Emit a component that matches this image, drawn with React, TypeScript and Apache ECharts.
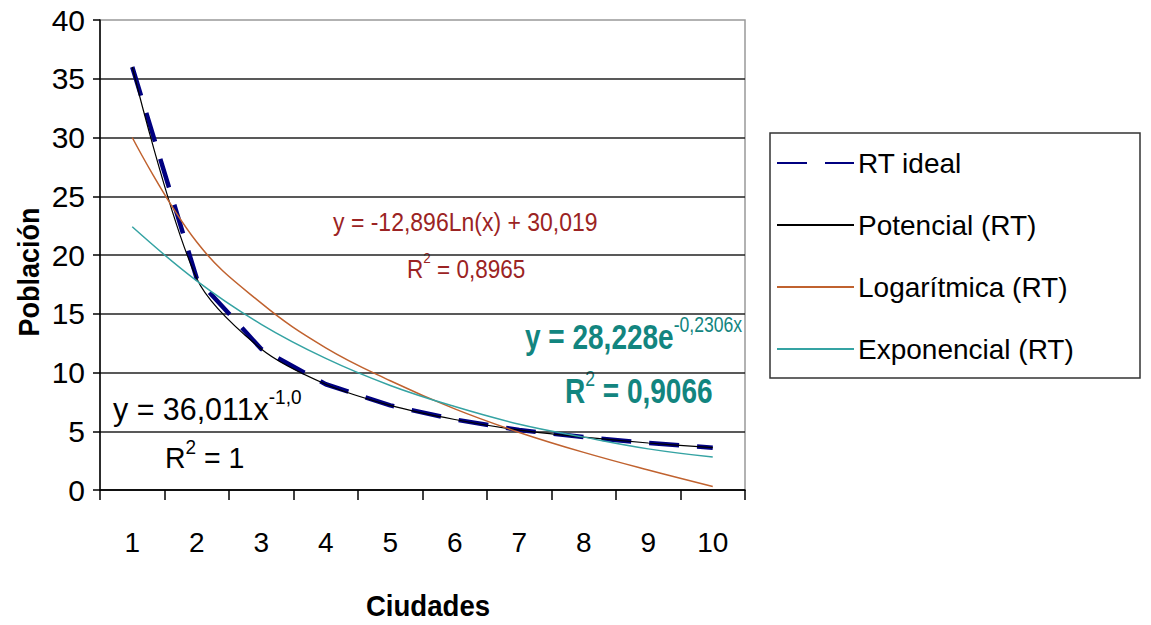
import React, { useEffect, useRef } from "react";
import * as echarts from "echarts";

const categories = ["1", "2", "3", "4", "5", "6", "7", "8", "9", "10"];
const rtIdeal = [36.0, 18.0, 12.0, 9.0, 7.2, 6.0, 5.1, 4.5, 4.0, 3.6];
const potencial = [36.0, 18.0, 12.0, 9.0, 7.2, 6.0, 5.1, 4.5, 4.0, 3.6];
const logaritmica = [30.0, 21.1, 15.9, 12.1, 9.3, 6.9, 4.9, 3.2, 1.7, 0.3];
const exponencial = [22.4, 17.8, 14.1, 11.2, 8.9, 7.1, 5.6, 4.5, 3.5, 2.8];

const seriesNames = ["RT ideal", "Potencial (RT)", "Logarítmica (RT)", "Exponencial (RT)"];

const FONT = "'Liberation Sans', Arial, sans-serif";

export default function App() {
  const ref = useRef<HTMLDivElement>(null);
  useEffect(() => {
    document.body.style.margin = "0";
    if (!ref.current) return;
    const chart = echarts.init(ref.current, undefined, { renderer: "svg" });
    const supRich = (color: string, size: number, supSize: number, weight: string) => ({
      m: { fontSize: size, fontFamily: FONT, fill: color, color, fontWeight: weight, verticalAlign: "bottom", lineHeight: size + 6 },
      s: { fontSize: supSize, fontFamily: FONT, fill: color, color, fontWeight: "normal", verticalAlign: "top", lineHeight: size + 6 },
    });
    chart.setOption({
      animation: false,
      backgroundColor: "#ffffff",
      textStyle: { fontFamily: FONT },
      grid: { left: 100, right: 406, top: 20, bottom: 135, show: true, borderColor: "#999", borderWidth: 1.5 },
      legend: {
        orient: "vertical",
        left: 776,
        top: 149,
        padding: 0,
        itemWidth: 77,
        itemHeight: 14,
        itemGap: 34,
        data: seriesNames,
        itemStyle: { opacity: 0 },
        textStyle: { fontSize: 28, color: "#000", fontFamily: FONT, padding: [0, 0, 0, -1] },
      },
      xAxis: {
        type: "category",
        data: categories,
        boundaryGap: true,
        axisLine: { lineStyle: { color: "#000", width: 1.5 } },
        axisTick: { show: true, length: 10, lineStyle: { color: "#000", width: 1.5 } },
        axisLabel: { fontSize: 28, color: "#000", margin: 38, fontFamily: FONT },
        splitLine: { show: false },
      },
      yAxis: {
        type: "value",
        min: 0,
        max: 40,
        interval: 5,
        axisLine: { show: true, lineStyle: { color: "#000", width: 1.5 } },
        axisTick: { show: true, length: 7, lineStyle: { color: "#000", width: 1.5 } },
        axisLabel: { fontSize: 30, color: "#000", margin: 15, fontFamily: FONT },
        splitLine: { show: true, showMaxLine: false, lineStyle: { color: "#222", width: 1.5 } },
      },
      series: [
        {
          name: seriesNames[0],
          type: "line",
          data: rtIdeal,
          symbol: "none",
          lineStyle: { color: "#000080", width: 4.5, type: [30, 18] },
          itemStyle: { color: "#000080" },
          z: 2,
        },
        {
          name: seriesNames[1],
          type: "line",
          data: potencial,
          symbol: "none",
          smooth: 0.3,
          lineStyle: { color: "#000000", width: 1.2 },
          itemStyle: { color: "#000000" },
          z: 3,
        },
        {
          name: seriesNames[2],
          type: "line",
          data: logaritmica,
          symbol: "none",
          smooth: 0.4,
          lineStyle: { color: "#C0622F", width: 1.5 },
          itemStyle: { color: "#C0622F" },
          z: 3,
        },
        {
          name: seriesNames[3],
          type: "line",
          data: exponencial,
          symbol: "none",
          smooth: 0.4,
          lineStyle: { color: "#35A3A3", width: 1.5 },
          itemStyle: { color: "#35A3A3" },
          z: 3,
        },
      ],
      graphic: [
        { type: "rect", shape: { x: 770, y: 133, width: 370, height: 245 }, style: { fill: "none", stroke: "#333", lineWidth: 1.5 }, z: 10 },
        {
          type: "text", x: 28, y: 272, rotation: Math.PI / 2, scaleX: 0.9,
          style: { text: "Población", font: `bold 30px ${FONT}`, fill: "#000", align: "center", verticalAlign: "middle" },
        },
        {
          type: "text", x: 428, y: 606, scaleX: 0.92,
          style: { text: "Ciudades", font: `bold 30px ${FONT}`, fill: "#000", align: "center", verticalAlign: "middle" },
        },
        {
          type: "text", x: 333, y: 222, scaleX: 0.92,
          style: { text: "y = -12,896Ln(x) + 30,019", font: `25px ${FONT}`, fill: "#9B2323", align: "left", verticalAlign: "middle" },
        },
        {
          type: "text", x: 407, y: 266, scaleX: 0.9,
          style: { text: "{m|R}{s|2}{m| = 0,8965}", rich: supRich("#9B2323", 25, 15, "normal"), align: "left", verticalAlign: "middle" },
        },
        {
          type: "text", x: 525, y: 334, scaleX: 0.8,
          style: { text: "{m|y = 28,228e}{s|-0,2306x}", rich: supRich("#12857F", 35, 22, "bold"), align: "left", verticalAlign: "middle" },
        },
        {
          type: "text", x: 565, y: 388, scaleX: 0.8,
          style: { text: "{m|R}{s|2}{m| = 0,9066}", rich: supRich("#12857F", 35, 22, "bold"), align: "left", verticalAlign: "middle" },
        },
        {
          type: "text", x: 113, y: 406, scaleX: 0.95,
          style: { text: "{m|y = 36,011x}{s|-1,0}", rich: supRich("#000", 32, 20, "normal"), align: "left", verticalAlign: "middle" },
        },
        {
          type: "text", x: 165, y: 455, scaleX: 0.95,
          style: { text: "{m|R}{s|2}{m| = 1}", rich: supRich("#000", 30, 20, "normal"), align: "left", verticalAlign: "middle" },
        },
      ],
    });
    return () => chart.dispose();
  }, []);
  return <div ref={ref} style={{ width: 1151, height: 625 }} />;
}
